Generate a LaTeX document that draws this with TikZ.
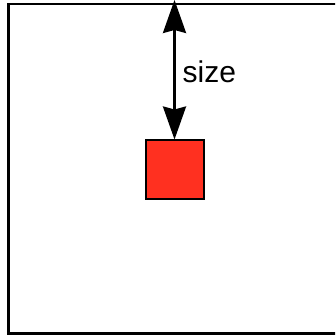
\documentclass[tikz,border=0pt]{standalone}
\usepackage{fontspec}
\setmainfont{Liberation Sans}
\usetikzlibrary{arrows.meta}
\definecolor{boxred}{RGB}{255,48,32}
\begin{document}
\begin{tikzpicture}[x=1pt,y=1pt,
  frame/.style={draw=black,line width=2.5pt},
  redbox/.style={draw=black,fill=boxred,line width=2pt,minimum width=58pt,minimum height=58pt,inner sep=0pt},
  sizearrow/.style={line width=2.6pt,{Stealth[length=33pt,width=23pt,inset=3pt]}-{Stealth[length=33pt,width=23pt,inset=3pt]}},
  lbl/.style={font=\fontsize{30}{36}\selectfont,inner sep=0pt,anchor=base west}]
\useasboundingbox (0,0) rectangle (335,-336);
\clip (0,0) rectangle (335,-336);
\fill[white] (0,0) rectangle (335,-336);
\draw[frame] (8.7,-4) rectangle (345,-333.5);
\node[redbox] (sq) at (174.5,-169.5) {};
\coordinate (top) at (174.5,0);
\draw[sizearrow] (top) -- (sq.north);
\node[lbl] (size) at (182.5,-82.7) {size};
\end{tikzpicture}
\end{document}
